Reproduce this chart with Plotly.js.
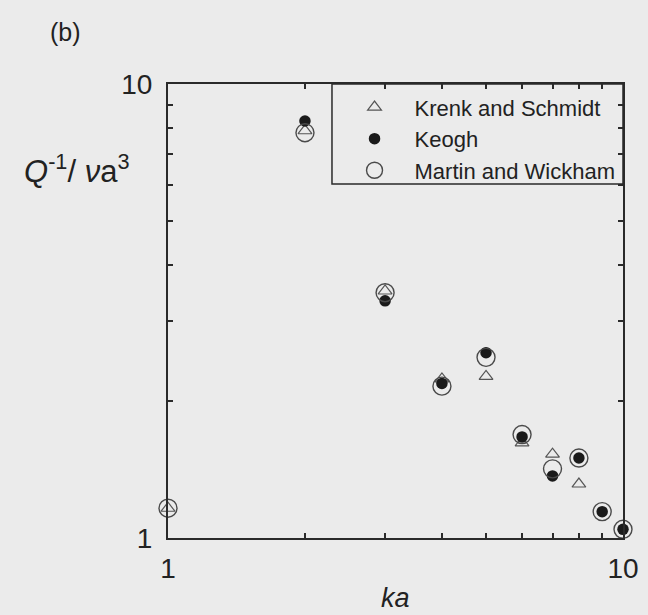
<!DOCTYPE html>
<html>
<head>
<meta charset="utf-8">
<script src="https://cdn.plot.ly/plotly-3.0.1.min.js"></script>
<style>
  html, body { margin: 0; padding: 0; background: #ebebeb; }
  #chart { width: 648px; height: 615px; }
</style>
</head>
<body>
<div id="chart"></div>
<script>
// Dimensionless attenuation Q^-1 / (nu a^3) versus ka, three models
const kaKrenk = [1, 2, 3, 4, 5, 6, 7, 8];
const qKrenk = [1.163, 7.89, 3.50, 2.24, 2.27, 1.62, 1.53, 1.315];

const kaKeogh = [2, 3, 4, 5, 6, 7, 8, 9, 10];
const qKeogh = [8.29, 3.33, 2.19, 2.56, 1.67, 1.37, 1.50, 1.143, 1.045];

const kaMartin = [1, 2, 3, 4, 5, 6, 7, 8, 9, 10];
const qMartin = [1.163, 7.81, 3.47, 2.16, 2.50, 1.69, 1.42, 1.50, 1.143, 1.045];

const seriesNames = ['Krenk and Schmidt', 'Keogh', 'Martin and Wickham'];

// labelled decades and unlabelled intermediate ticks
const majorTickVals = [1, 10];
const majorTickText = ['1', '10'];
const minorTickVals = [2, 3, 4, 5, 6, 7, 8, 9];

const FONT = 'Liberation Sans, Arial, Helvetica, sans-serif';
const INK = '#2a2a2a';

const traces = [
  {
    x: kaKrenk, y: qKrenk, name: seriesNames[0],
    type: 'scatter', mode: 'markers', cliponaxis: false,
    marker: { symbol: 'triangle-up-open', size: 12, color: '#555', line: { width: 1.2, color: '#555' } }
  },
  {
    x: kaKeogh, y: qKeogh, name: seriesNames[1],
    type: 'scatter', mode: 'markers', cliponaxis: false,
    marker: { symbol: 'circle', size: 11.5, color: '#1a1a1a', line: { width: 0 } }
  },
  {
    x: kaMartin, y: qMartin, name: seriesNames[2],
    type: 'scatter', mode: 'markers', cliponaxis: false,
    marker: { symbol: 'circle-open', size: 18, color: '#4a4a4a', line: { width: 1.4, color: '#4a4a4a' } }
  }
];

const axisCommon = {
  type: 'log',
  range: [0, 1],
  tickmode: 'array',
  tickvals: majorTickVals,
  ticktext: majorTickText,
  ticks: 'inside',
  ticklen: 5,
  tickwidth: 2,
  tickcolor: INK,
  minor: {
    tickmode: 'array',
    tickvals: minorTickVals,
    ticks: 'inside',
    ticklen: 5,
    tickwidth: 2,
    tickcolor: INK,
    showgrid: false
  },
  showline: true,
  linecolor: INK,
  linewidth: 2,
  mirror: 'ticks',
  showgrid: false,
  zeroline: false,
  tickfont: { family: FONT, size: 28, color: '#222' }
};

const layout = {
  width: 648,
  height: 615,
  margin: { l: 168, r: 25, t: 84, b: 77 },
  paper_bgcolor: '#ebebeb',
  plot_bgcolor: '#ebebeb',
  font: { family: FONT, color: '#222' },
  xaxis: Object.assign({}, axisCommon, { ticklabelstandoff: 4 }),
  yaxis: Object.assign({}, axisCommon, { ticklabelstandoff: 8 }),
  showlegend: true,
  legend: {
    x: 0.366, xanchor: 'left',
    y: 0.995, yanchor: 'top',
    bgcolor: 'rgba(0,0,0,0)',
    borderwidth: 0,
    itemwidth: 70,
    font: { family: FONT, size: 22, color: '#222' }
  },
  shapes: [
    {
      type: 'rect', xref: 'paper', yref: 'paper',
      x0: 0.3604, x1: 1, y0: 0.7797, y1: 1,
      line: { color: INK, width: 1.5 }, fillcolor: 'rgba(0,0,0,0)'
    }
  ],
  annotations: [
    {
      text: '(b)', xref: 'paper', yref: 'paper',
      x: -0.226, y: 1.1145, xanchor: 'center', yanchor: 'middle',
      showarrow: false, font: { family: FONT, size: 25, color: '#222' }
    },
    {
      text: '<i>Q</i><sup>-1</sup>/ <i>ν</i>a<sup>3</sup>', xref: 'paper', yref: 'paper',
      x: -0.202, y: 0.812, xanchor: 'center', yanchor: 'middle',
      showarrow: false, font: { family: FONT, size: 31, color: '#222' }
    },
    {
      text: '<i>ka</i>', xref: 'paper', yref: 'paper',
      x: 0.5, y: -0.132, xanchor: 'center', yanchor: 'middle',
      showarrow: false, font: { family: FONT, size: 27, color: '#222' }
    }
  ]
};

Plotly.newPlot('chart', traces, layout, { displayModeBar: false, staticPlot: true });
</script>
</body>
</html>
